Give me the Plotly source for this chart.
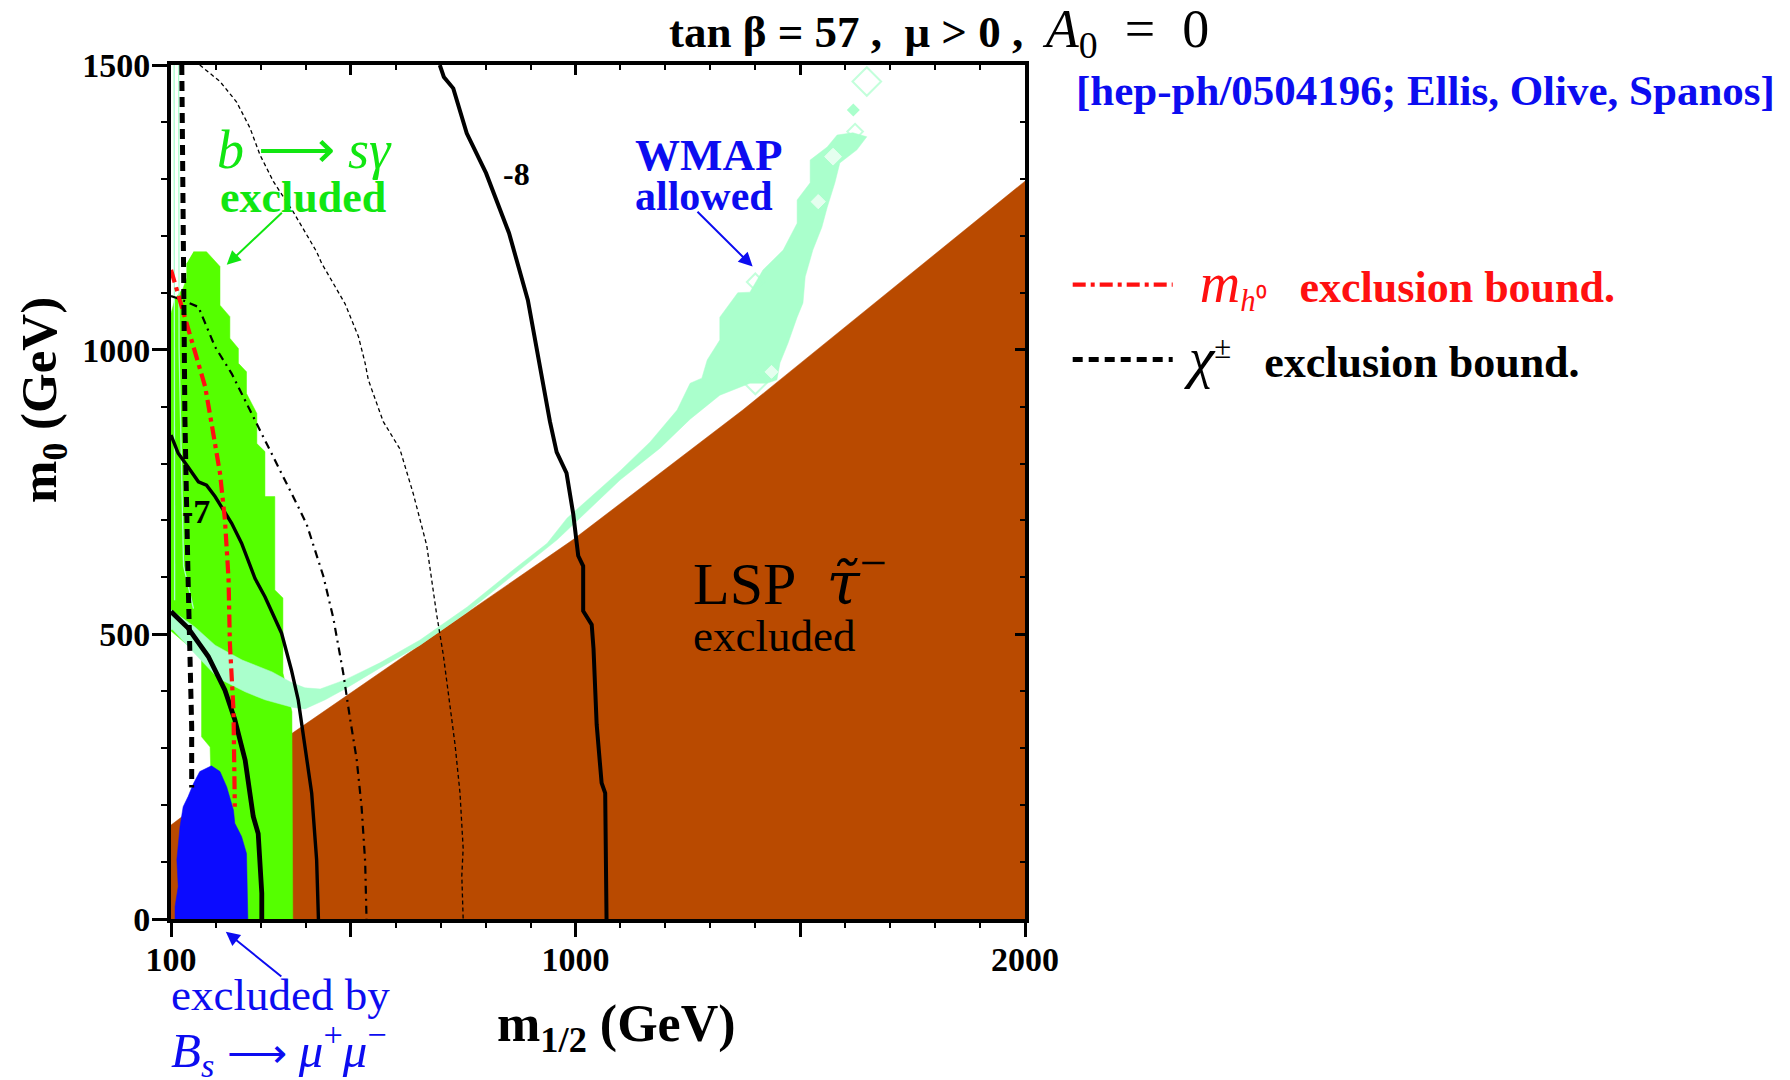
import plotly.graph_objects as go

# ---------------- data (m1/2 [GeV], m0 [GeV]) ----------------
# LSP stau excluded region (brown)
stau_m12 = [100, 100, 371, 994, 1372, 2000, 2000]
stau_m0 = [0, 165, 327, 666, 894, 1296, 0]

# b -> s gamma excluded region (green)
bsg_m12 = [150, 179, 209, 209, 231, 231, 250, 250, 268, 268, 291, 291, 309, 309, 331, 331,
           349, 349, 369, 371, 198, 187, 187, 168, 168, 100, 100, 109, 127, 135, 135]
bsg_m0 = [1172, 1172, 1146, 1078, 1058, 1020, 1002, 976, 961, 923, 888, 835, 821, 742, 742, 578,
          564, 432, 364, 0, 0, 267, 302, 320, 460, 506, 1064, 1089, 1108, 1126, 1152]

# WMAP allowed region (light green)
wmap_m12 = [100, 153, 198, 258, 325, 369, 398, 432, 487, 565, 654, 759, 861, 937, 981, 1099, 1166,
            1226, 1255, 1281, 1293, 1321, 1321, 1361, 1388, 1417, 1462, 1493, 1493, 1522, 1522,
            1560, 1582, 1617, 1648, 1626, 1588, 1577, 1560, 1548, 1528, 1511, 1506, 1493, 1473,
            1455, 1448, 1426, 1388, 1321, 1255, 1188, 1099, 1003, 959, 861, 759, 654, 565, 489,
            443, 398, 369, 309, 265, 205, 160, 104, 100]
wmap_m0 = [543, 513, 481, 455, 434, 415, 406, 404, 420, 450, 490, 548, 613, 660, 704, 787, 838,
           894, 941, 950, 982, 1017, 1057, 1100, 1101, 1140, 1175, 1222, 1263, 1293, 1333,
           1356, 1377, 1381, 1374, 1351, 1328, 1293, 1250, 1215, 1175, 1128, 1082, 1057, 1012,
           977, 947, 941, 941, 920, 878, 827, 771, 699, 666, 604, 539, 481, 441, 405,
           385, 369, 372, 385, 399, 423, 460, 508, 508]
# thin WMAP contours near the left edge
wmap_edge1_m12 = [107, 107, 108]
wmap_edge1_m0 = [1500, 900, 560]
wmap_edge2_m12 = [117, 118, 128, 150]
wmap_edge2_m0 = [1500, 1000, 620, 545]
# small WMAP islands (open / filled diamonds) and holes
wmap_open_m12 = [1400, 1400, 1648, 1622]
wmap_open_m0 = [1119, 941, 1471, 1383]
wmap_dot_m12 = [1618]
wmap_dot_m0 = [1421]
wmap_hole_m12 = [1540, 1436, 1573]
wmap_hole_m0 = [1260, 961, 1339]

# B_s -> mu mu excluded region (blue)
bs_m12 = [109, 109, 116, 113, 120, 127, 138, 150, 164, 190, 209, 224, 239, 242, 257, 268, 271]
bs_m0 = [0, 22, 57, 104, 162, 197, 215, 238, 259, 269, 259, 232, 191, 168, 145, 115, 0]

# contours
lineA_m12 = [100, 138, 183, 220, 242, 265, 283, 294, 302, 302]
lineA_m0 = [540, 511, 461, 402, 350, 279, 180, 150, 45, 0]
lineB_m12 = [100, 116, 138, 161, 179, 198, 235, 257, 287, 309, 346, 368, 383, 398, 413, 424, 428]
lineB_m0 = [850, 818, 794, 768, 762, 742, 695, 660, 598, 566, 502, 437, 385, 303, 221, 104, 0]
lineC_m12 = [698, 707, 728, 758, 801, 852, 894, 920, 943, 958, 980, 995, 1006, 1017, 1017, 1036,
             1040, 1047, 1058, 1066, 1069]
lineC_m0 = [1500, 1479, 1459, 1380, 1310, 1205, 1087, 970, 874, 820, 783, 711, 638, 620, 541, 517,
            475, 342, 239, 221, 0]
lineD_m12 = [100, 116, 161, 198, 235, 272, 309, 346, 383, 402, 417, 439, 461, 483, 498, 513, 524, 532, 535]
lineD_m0 = [1094, 1090, 1075, 1005, 958, 900, 841, 783, 724, 693, 656, 602, 529, 433, 354, 281, 197, 100, 0]
lineE_m12 = [164, 209, 246, 276, 298, 328, 372, 424, 435, 487, 517, 532, 539, 572, 609, 639, 669, 680,
             691, 706, 721, 732, 743, 750, 747, 750]
lineE_m0 = [1500, 1471, 1435, 1389, 1342, 1295, 1242, 1172, 1152, 1081, 1023, 976, 947, 874, 826, 747,
            656, 596, 535, 463, 372, 306, 221, 124, 76, 0]
# chargino bound (black dashed) and Higgs bound (red dash-dot)
chi_m12 = [124, 127, 131, 138, 142, 146, 146]
chi_m0 = [1500, 1172, 876, 598, 485, 338, 231]
higgs_m12 = [100, 113, 131, 153, 176, 194, 209, 220, 228, 231, 239, 242]
higgs_m0 = [1140, 1105, 1058, 994, 935, 853, 783, 701, 598, 484, 367, 197]

x_tickvals = [100, 500, 1000, 1500, 2000]
x_ticktext = ["100", "", "1000", "", "2000"]
y_tickvals = [0, 500, 1000, 1500]
y_ticktext = ["0", "500", "1000", "1500"]

BROWN = "#b94a00"
GREEN = "#55ff00"
LGREEN = "#aaffcc"
BLUE = "#0b0bff"
TXTGREEN = "#11e611"
TXTBLUE = "#0c0cf0"
SERIF = "Liberation Serif"
NB = "\u00a0"

fig = go.Figure()


def region(xs, ys, color):
    fig.add_trace(go.Scatter(x=xs, y=ys, mode="lines", fill="toself", fillcolor=color,
                             line=dict(width=0.5, color=color), hoverinfo="skip",
                             showlegend=False))


def curve(xs, ys, color, width, dash="solid", **kw):
    fig.add_trace(go.Scatter(x=xs, y=ys, mode="lines", line=dict(color=color, width=width, dash=dash),
                             hoverinfo="skip", **kw))


region(stau_m12, stau_m0, BROWN)
region(bsg_m12, bsg_m0, GREEN)
region(wmap_m12, wmap_m0, LGREEN)
curve(wmap_edge1_m12, wmap_edge1_m0, LGREEN, 1.3, showlegend=False)
curve(wmap_edge2_m12, wmap_edge2_m0, LGREEN, 1.3, showlegend=False)
fig.add_trace(go.Scatter(x=wmap_open_m12, y=wmap_open_m0, mode="markers",
                         marker=dict(symbol="diamond-open", size=[13, 17, 22, 12], color=LGREEN,
                                     line=dict(width=2, color=LGREEN)),
                         hoverinfo="skip", showlegend=False))
fig.add_trace(go.Scatter(x=wmap_dot_m12, y=wmap_dot_m0, mode="markers",
                         marker=dict(symbol="diamond", size=10, color=LGREEN),
                         hoverinfo="skip", showlegend=False))
fig.add_trace(go.Scatter(x=wmap_hole_m12, y=wmap_hole_m0, mode="markers",
                         marker=dict(symbol="diamond", size=[11, 10, 13], color="white"),
                         hoverinfo="skip", showlegend=False))
region(bs_m12, bs_m0, BLUE)

curve(lineD_m12, lineD_m0, "black", 2.2, "8px,5px,2px,5px", showlegend=False)
curve(lineE_m12, lineE_m0, "black", 1.3, "4px,3px", showlegend=False)
curve(lineA_m12, lineA_m0, "black", 4.8, showlegend=False)
curve(lineB_m12, lineB_m0, "black", 3.4, showlegend=False)
curve(lineC_m12, lineC_m0, "black", 4.0, showlegend=False)
curve(higgs_m12, higgs_m0, "#ff1010", 4.2, "13px,5px,4px,5px", showlegend=True, legend="legend",
      name=NB * 2 + "<span style='font-size:56px'><i>m</i></span><sub><i>h</i>⁰</sub>" + NB * 3
      + "<b>exclusion bound.</b>")
curve(chi_m12, chi_m0, "black", 5, "10px,6px", showlegend=True, legend="legend2",
      name=NB + "<span style='font-size:58px'><i>χ</i></span><sup>±</sup>" + NB * 3
      + "<b>exclusion bound.</b>")

# dummy trace so the mirrored (inside-tick) axes exist
fig.add_trace(go.Scatter(x=[None], y=[None], xaxis="x2", yaxis="y2", showlegend=False, hoverinfo="skip"))

tickfont = dict(family=SERIF, size=34, color="black", weight="bold")
fig.update_layout(
    width=1790, height=1080,
    margin=dict(l=171, r=765, t=65, b=161),
    paper_bgcolor="white", plot_bgcolor="white",
    font=dict(family=SERIF, color="black"),
    xaxis=dict(range=[100, 2000], showgrid=False, zeroline=False, showline=True, linewidth=4,
               linecolor="black", ticks="outside", ticklen=14, tickwidth=2.5, tickcolor="black",
               tickmode="array", tickvals=x_tickvals, ticktext=x_ticktext, tickfont=tickfont,
               ticklabelstandoff=-7,
               minor=dict(tickmode="linear", tick0=0, dtick=100, ticks="outside", ticklen=5,
                          tickwidth=2, tickcolor="black")),
    yaxis=dict(range=[0, 1500], showgrid=False, zeroline=False, showline=True, linewidth=4,
               linecolor="black", ticks="outside", ticklen=15, tickwidth=2.5, tickcolor="black",
               tickmode="array", tickvals=y_tickvals, ticktext=y_ticktext, tickfont=tickfont,
               ticklabelstandoff=-5,
               minor=dict(tickmode="linear", tick0=0, dtick=100, ticks="outside", ticklen=6,
                          tickwidth=2, tickcolor="black")),
    xaxis2=dict(range=[100, 2000], overlaying="x", side="top", anchor="y2", showgrid=False,
                zeroline=False, showline=True, linewidth=4, linecolor="black", ticks="inside",
                ticklen=10, tickwidth=2.5, tickcolor="black", tickmode="array",
                tickvals=[500, 1000, 1500], showticklabels=False,
                minor=dict(tickmode="linear", tick0=0, dtick=100, ticks="inside", ticklen=5,
                           tickwidth=2, tickcolor="black")),
    yaxis2=dict(range=[0, 1500], overlaying="y", side="right", anchor="x2", showgrid=False,
                zeroline=False, showline=True, linewidth=4, linecolor="black", ticks="inside",
                ticklen=10, tickwidth=2.5, tickcolor="black", tickmode="array",
                tickvals=[500, 1000], showticklabels=False,
                minor=dict(tickmode="linear", tick0=0, dtick=100, ticks="inside", ticklen=5,
                           tickwidth=2, tickcolor="black")),
    legend=dict(x=1.05, y=0.7424, xanchor="left", yanchor="middle", itemwidth=100,
                bgcolor="rgba(0,0,0,0)", font=dict(family=SERIF, size=44, color="#ff1010")),
    legend2=dict(x=1.05, y=0.6546, xanchor="left", yanchor="middle", itemwidth=100,
                 bgcolor="rgba(0,0,0,0)", font=dict(family=SERIF, size=44, color="black")),
)

ann = []


def text(x, y, s, size, color="black", ref="x", xanchor="center", yanchor="middle", angle=0):
    ann.append(dict(x=x, y=y, xref="paper" if ref == "paper" else "x",
                    yref="paper" if ref == "paper" else "y", text=s, showarrow=False,
                    xanchor=xanchor, yanchor=yanchor, textangle=angle,
                    font=dict(family=SERIF, size=size, color=color)))


# title and citation
text(0.8993, 1.0386, "<b>tan β = 57 ," + NB * 2 + "μ > 0 ,</b>" + NB * 2
     + "<span style='font-size:54px'><i>A</i><sub>0</sub>" + NB * 2 + "=" + NB * 2 + "0</span>",
     45, ref="paper")
text(1.4684, 0.9696, "<b>[hep-ph/0504196; Ellis, Olive, Spanos]</b>", 43, TXTBLUE, ref="paper")
# axis titles
text(0.5211, -0.1265, "<b>m<sub>1/2</sub> (GeV)</b>", 52, ref="paper")
text(-0.1499, 0.6077, "<b>m<sub>0</sub> (GeV)</b>", 51, ref="paper", angle=-90)
# in-plot labels
text(398, 1350, "<i>b</i> ⟶ <i>sγ</i>", 54, TXTGREEN)
text(394, 1268, "<b>excluded</b>", 44, TXTGREEN)
text(1295, 1342, "<b>WMAP</b>", 45, TXTBLUE)
text(1286, 1270, "<b>allowed</b>", 42, TXTBLUE)
text(868, 1308, "<b>-8</b>", 32)
text(156, 716, "<b>-7</b>", 34)
text(1258, 601, "LSP" + NB + NB + "<span style='font-family:DejaVu Serif'><i>τ̃</i></span>"
     + "<sup><span style='font-size:48px'>−</span></sup>", 60, xanchor="left")
text(1258, 497, "excluded", 45, xanchor="left")
# B_s label below the axis
text(-0.0023, -0.0890, "excluded by", 45, TXTBLUE, ref="paper", xanchor="left")
text(-0.0023, -0.1530, "<i>B</i><sub><i>s</i></sub>" + NB + "<span style='font-size:42px'>⟶</span>" + NB
     + "<i>μ</i><sup>+</sup><i>μ</i><sup>−</sup>", 49, TXTBLUE, ref="paper", xanchor="left")

# arrows
ann.append(dict(x=224, y=1149, ax=350, ay=1243, xref="x", yref="y", axref="x", ayref="y",
                text="", showarrow=True, arrowhead=2, arrowsize=1.4, arrowwidth=2, arrowcolor=TXTGREEN))
ann.append(dict(x=1394, y=1146, ax=1268, ay=1245, xref="x", yref="y", axref="x", ayref="y",
                text="", showarrow=True, arrowhead=2, arrowsize=1.4, arrowwidth=2, arrowcolor=TXTBLUE))
ann.append(dict(x=0.0642, y=-0.0149, ax=57, ay=46, xref="paper", yref="paper",
                text="", showarrow=True, arrowhead=2, arrowsize=1.4, arrowwidth=2, arrowcolor=TXTBLUE))

fig.update_layout(annotations=ann)
fig.write_html("out.html")
